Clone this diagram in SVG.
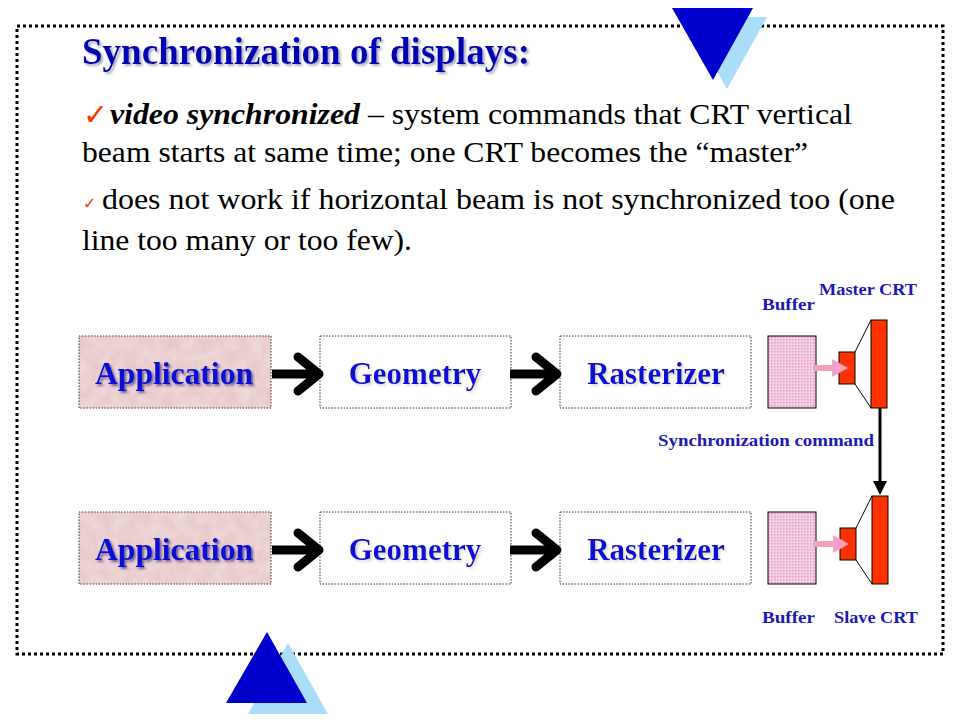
<svg xmlns="http://www.w3.org/2000/svg" width="960" height="720" viewBox="0 0 960 720">
<defs>
<pattern id="hatch" width="3" height="3" patternUnits="userSpaceOnUse">
<rect width="3" height="3" fill="#F4D0E4"/>
<rect width="1.5" height="1.5" fill="#E89CC4"/>
</pattern>
<filter id="tex" x="0" y="0" width="100%" height="100%">
<feTurbulence type="fractalNoise" baseFrequency="0.08" numOctaves="3" seed="4"/>
<feColorMatrix type="matrix" values="0 0 0 0 0.90  0 0 0 0 0.76  0 0 0 0 0.76  0 0 0 -0.9 0.85"/>
</filter>
<filter id="shTitle" x="-5%" y="-20%" width="110%" height="150%">
<feDropShadow dx="2" dy="2" stdDeviation="0.8" flood-color="#A0A0B8" flood-opacity="0.9"/>
</filter>
<filter id="shLbl" x="-5%" y="-20%" width="115%" height="160%">
<feDropShadow dx="2" dy="2" stdDeviation="1" flood-color="#202060" flood-opacity="0.6"/>
</filter>
<filter id="shLbl2" x="-5%" y="-20%" width="115%" height="160%">
<feDropShadow dx="2" dy="2" stdDeviation="1.2" flood-color="#C8C8A0" flood-opacity="0.6"/>
</filter>
<g id="chev"><path d="M-50,0 H-4" fill="none" stroke="#000" stroke-width="9"/><path d="M-24,-17 L-3,0 L-24,17" fill="none" stroke="#000" stroke-width="9" stroke-linecap="round" stroke-linejoin="round"/></g>
</defs>
<style>
.body{font-family:"Liberation Serif","Times New Roman",serif;font-size:30px;fill:#000}
.title{font-family:"Liberation Serif",serif;font-weight:bold;font-size:37px;fill:#0000B4}
.chk{font-family:"DejaVu Sans",sans-serif;fill:#FF3300;font-weight:bold}
.lbl{font-family:"Liberation Serif",serif;font-weight:bold;font-size:31px;text-anchor:middle;fill:#1010D8}
.small{font-family:"Liberation Serif",serif;font-weight:bold;font-size:17px;fill:#1A1AB4}
.box{stroke:#333;stroke-width:1;stroke-dasharray:1.5 1.5}
.crt{fill:#FF3300;stroke:#000;stroke-width:1}
</style>
<rect width="960" height="720" fill="#fff"/>
<rect x="17" y="26" width="926" height="628" fill="none" stroke="#000" stroke-width="3" stroke-dasharray="3 3"/>
<g id="decor">
<polygon points="686,17 767,17 727,89" fill="#AADDFA"/>
<polygon points="672,8 753,8 713,80" fill="#0000CC"/>
<polygon points="288,643 248,714 328,714" fill="#AADDFA"/>
<polygon points="267,632 226,703 307,703" fill="#0000CC"/>
</g>
<g id="text">
<text class="title" x="82" y="64" textLength="448" lengthAdjust="spacingAndGlyphs" filter="url(#shTitle)">Synchronization  of displays:</text>
<text class="chk" x="83" y="125" font-size="30">✓</text>
<text class="body" x="110" y="124" textLength="742" lengthAdjust="spacingAndGlyphs"><tspan font-weight="bold" font-style="italic">video synchronized</tspan> – system commands that CRT vertical</text>
<text class="body" x="82" y="162" textLength="726" lengthAdjust="spacingAndGlyphs">beam starts at same time; one CRT becomes the “master”</text>
<text class="chk" x="83" y="209" font-size="16">✓</text>
<text class="body" x="102" y="209" textLength="793" lengthAdjust="spacingAndGlyphs">does not work if horizontal beam is not synchronized  too (one</text>
<text class="body" x="82" y="250" textLength="330" lengthAdjust="spacingAndGlyphs">line too many or too few).</text>
</g>
<g id="app1">
<rect x="79" y="336" width="192" height="72" fill="#E8C4C6"/>
<rect x="79" y="336" width="192" height="72" filter="url(#tex)"/>
<rect class="box" x="79" y="336" width="192" height="72" fill="none"/>
<text class="lbl" x="174" y="384" textLength="158" lengthAdjust="spacingAndGlyphs" filter="url(#shLbl)">Application</text>
</g>
<g id="geo1">
<rect class="box" x="320" y="336" width="191" height="72" fill="#fff"/>
<text class="lbl" x="415" y="384" filter="url(#shLbl2)">Geometry</text>
</g>
<g id="ras1">
<rect class="box" x="560" y="336" width="191" height="72" fill="#fff"/>
<text class="lbl" x="656" y="384" filter="url(#shLbl2)">Rasterizer</text>
</g>
<g id="buf1"><rect x="768" y="336" width="48" height="72" fill="url(#hatch)" stroke="#000" stroke-width="1"/></g>
<g id="crt1">
<path d="M855,352 L871,320 M855,384 L871,408" stroke="#000" stroke-width="1"/>
<rect class="crt" x="839" y="352" width="16" height="32"/>
<rect class="crt" x="871" y="320" width="16" height="88"/>
</g>
<g id="app2">
<rect x="79" y="512" width="192" height="72" fill="#E8C4C6"/>
<rect x="79" y="512" width="192" height="72" filter="url(#tex)"/>
<rect class="box" x="79" y="512" width="192" height="72" fill="none"/>
<text class="lbl" x="174" y="560" textLength="158" lengthAdjust="spacingAndGlyphs" filter="url(#shLbl)">Application</text>
</g>
<g id="geo2">
<rect class="box" x="320" y="512" width="191" height="72" fill="#fff"/>
<text class="lbl" x="415" y="560" filter="url(#shLbl2)">Geometry</text>
</g>
<g id="ras2">
<rect class="box" x="560" y="512" width="191" height="72" fill="#fff"/>
<text class="lbl" x="656" y="560" filter="url(#shLbl2)">Rasterizer</text>
</g>
<g id="buf2"><rect x="768" y="512" width="48" height="72" fill="url(#hatch)" stroke="#000" stroke-width="1"/></g>
<g id="crt2">
<path d="M856,528 L872,496 M856,560 L872,584" stroke="#000" stroke-width="1"/>
<rect class="crt" x="840" y="528" width="16" height="32"/>
<rect class="crt" x="872" y="496" width="16" height="88"/>
</g>
<g id="connectors">
<use href="#chev" x="322" y="374"/>
<use href="#chev" x="560" y="374"/>
<use href="#chev" x="322" y="550"/>
<use href="#chev" x="560" y="550"/>
<path d="M813,368 H834" stroke="#F6A0C8" stroke-width="6"/>
<polygon points="832,359 848,368 832,377" fill="#F6A0C8"/>
<path d="M813,544 H835" stroke="#F6A0C8" stroke-width="6"/>
<polygon points="833,535 849,544 833,553" fill="#F6A0C8"/>
<path d="M880,408 V482" stroke="#000" stroke-width="3"/>
<polygon points="873,481 887,481 880,495" fill="#000"/>
</g>
<g id="labels">
<text class="small" x="819" y="295" textLength="98" lengthAdjust="spacingAndGlyphs">Master CRT</text>
<text class="small" x="762" y="310" textLength="53" lengthAdjust="spacingAndGlyphs">Buffer</text>
<text class="small" x="658" y="446" textLength="216" lengthAdjust="spacingAndGlyphs">Synchronization command</text>
<text class="small" x="762" y="623" textLength="53" lengthAdjust="spacingAndGlyphs">Buffer</text>
<text class="small" x="834" y="623" textLength="84" lengthAdjust="spacingAndGlyphs">Slave CRT</text>
</g>
</svg>
